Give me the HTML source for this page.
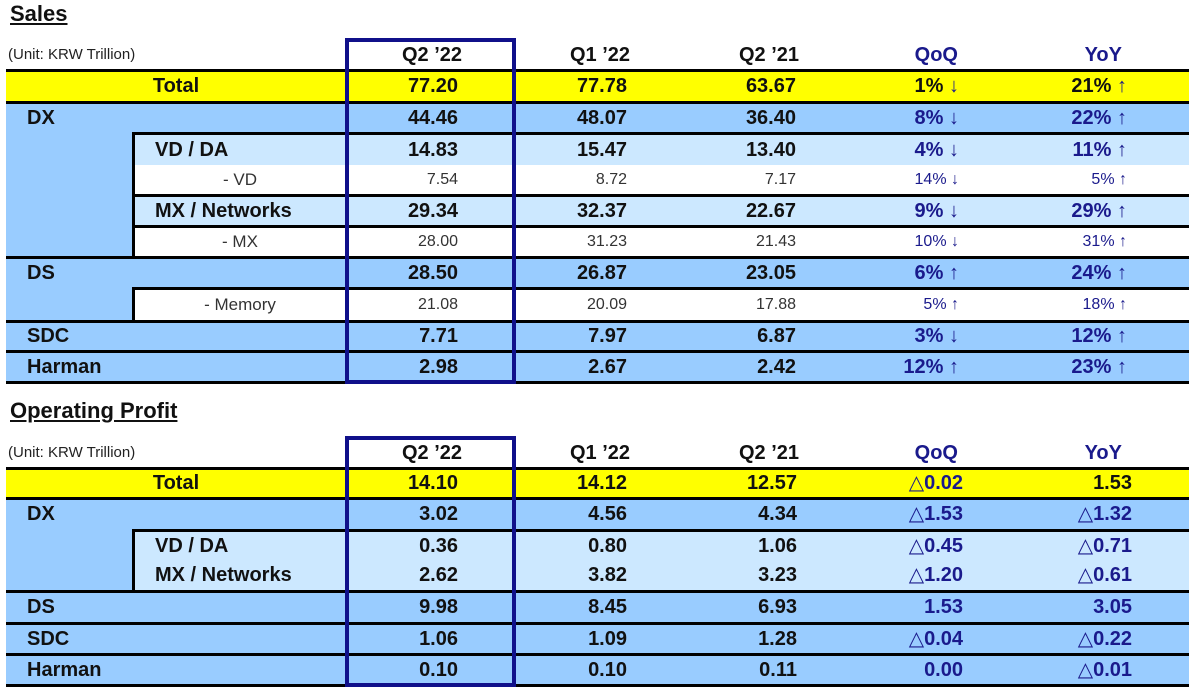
<!DOCTYPE html>
<html><head><meta charset="utf-8">
<style>
html,body{margin:0;padding:0;background:#fff;}
body{width:1200px;height:690px;position:relative;overflow:hidden;font-family:"Liberation Sans","DejaVu Sans",sans-serif;}
.f{position:absolute;}
.y{background:#ffff00;}
.bl{background:#99ccff;}
.lt{background:#cce8ff;}
.k{position:absolute;background:#000;}
.t{position:absolute;white-space:nowrap;}
.b{font-weight:bold;font-size:20px;color:#111;}
.r{font-size:16px;color:#333;}
.lab{font-size:17px;color:#333;}
.n{color:#1a1a8c;}
.R{width:200px;text-align:right;}
.C{width:200px;text-align:center;}
.a{color:#1a1a8c;}
.box{position:absolute;border:4px solid #10108a;box-sizing:border-box;}
.title{position:absolute;font-weight:bold;font-size:22px;line-height:22px;text-decoration:underline;color:#111;white-space:nowrap;}
.unit{position:absolute;font-size:15px;line-height:15px;color:#222;white-space:nowrap;}
</style></head><body>

<!-- ===== SALES ===== -->
<div class="title" style="left:10px;top:3px">Sales</div>
<div class="unit" style="left:8px;top:47px">(Unit: KRW Trillion)</div>

<!-- fills -->
<div class="f y" style="left:6px;top:72px;width:1183px;height:29px"></div>
<div class="f bl" style="left:6px;top:104px;width:1183px;height:28px"></div>
<div class="f bl" style="left:6px;top:132px;width:127px;height:124px"></div>
<div class="f lt" style="left:135px;top:135px;width:1054px;height:30px"></div>
<div class="f lt" style="left:135px;top:197px;width:1054px;height:28px"></div>
<div class="f bl" style="left:6px;top:259px;width:1183px;height:29px"></div>
<div class="f bl" style="left:6px;top:288px;width:127px;height:32px"></div>
<div class="f bl" style="left:6px;top:323px;width:1183px;height:27px"></div>
<div class="f bl" style="left:6px;top:353px;width:1183px;height:28px"></div>

<!-- lines -->
<div class="k" style="left:6px;top:69px;width:1183px;height:3px"></div>
<div class="k" style="left:6px;top:101px;width:1183px;height:3px"></div>
<div class="k" style="left:132px;top:132px;width:1057px;height:3px"></div>
<div class="k" style="left:132px;top:132px;width:3px;height:127px"></div>
<div class="k" style="left:132px;top:194px;width:1057px;height:3px"></div>
<div class="k" style="left:132px;top:225px;width:1057px;height:3px"></div>
<div class="k" style="left:6px;top:256px;width:1183px;height:3px"></div>
<div class="k" style="left:132px;top:287px;width:1057px;height:3px"></div>
<div class="k" style="left:132px;top:287px;width:3px;height:36px"></div>
<div class="k" style="left:6px;top:320px;width:1183px;height:3px"></div>
<div class="k" style="left:6px;top:350px;width:1183px;height:3px"></div>
<div class="k" style="left:6px;top:381px;width:1183px;height:3px"></div>

<!-- header -->
<div class="t b R" style="left:262px;top:42px;height:27px;line-height:27px">Q2 ’22</div>
<div class="t b R" style="left:430px;top:42px;height:27px;line-height:27px">Q1 ’22</div>
<div class="t b R" style="left:599px;top:42px;height:27px;line-height:27px">Q2 ’21</div>
<div class="t b R n" style="left:758px;top:42px;height:27px;line-height:27px">QoQ</div>
<div class="t b R n" style="left:922px;top:42px;height:27px;line-height:27px">YoY</div>

<!-- Total -->
<div class="t b C" style="left:76px;top:72px;height:29px;line-height:29px">Total</div>
<div class="t b R" style="left:258px;top:72px;height:29px;line-height:29px">77.20</div>
<div class="t b R" style="left:427px;top:72px;height:29px;line-height:29px">77.78</div>
<div class="t b R" style="left:596px;top:72px;height:29px;line-height:29px">63.67</div>
<div class="t b R" style="left:759px;top:72px;height:29px;line-height:29px">1% <span class="a">↓</span></div>
<div class="t b R" style="left:927px;top:72px;height:29px;line-height:29px">21% <span class="a">↑</span></div>

<!-- DX -->
<div class="t b" style="left:27px;top:104px;height:28px;line-height:28px">DX</div>
<div class="t b R" style="left:258px;top:104px;height:28px;line-height:28px">44.46</div>
<div class="t b R" style="left:427px;top:104px;height:28px;line-height:28px">48.07</div>
<div class="t b R" style="left:596px;top:104px;height:28px;line-height:28px">36.40</div>
<div class="t b R n" style="left:759px;top:104px;height:28px;line-height:28px">8% ↓</div>
<div class="t b R n" style="left:927px;top:104px;height:28px;line-height:28px">22% ↑</div>

<!-- VD / DA -->
<div class="t b" style="left:155px;top:135px;height:30px;line-height:30px">VD / DA</div>
<div class="t b R" style="left:258px;top:135px;height:30px;line-height:30px">14.83</div>
<div class="t b R" style="left:427px;top:135px;height:30px;line-height:30px">15.47</div>
<div class="t b R" style="left:596px;top:135px;height:30px;line-height:30px">13.40</div>
<div class="t b R n" style="left:759px;top:135px;height:30px;line-height:30px">4% ↓</div>
<div class="t b R n" style="left:927px;top:135px;height:30px;line-height:30px">11% ↑</div>

<!-- - VD -->
<div class="t lab C" style="left:140px;top:165px;height:29px;line-height:29px">- VD</div>
<div class="t r R" style="left:258px;top:165px;height:29px;line-height:29px">7.54</div>
<div class="t r R" style="left:427px;top:165px;height:29px;line-height:29px">8.72</div>
<div class="t r R" style="left:596px;top:165px;height:29px;line-height:29px">7.17</div>
<div class="t r R n" style="left:759px;top:165px;height:29px;line-height:29px">14% ↓</div>
<div class="t r R n" style="left:927px;top:165px;height:29px;line-height:29px">5% ↑</div>

<!-- MX / Networks -->
<div class="t b" style="left:155px;top:197px;height:28px;line-height:28px">MX / Networks</div>
<div class="t b R" style="left:258px;top:197px;height:28px;line-height:28px">29.34</div>
<div class="t b R" style="left:427px;top:197px;height:28px;line-height:28px">32.37</div>
<div class="t b R" style="left:596px;top:197px;height:28px;line-height:28px">22.67</div>
<div class="t b R n" style="left:759px;top:197px;height:28px;line-height:28px">9% ↓</div>
<div class="t b R n" style="left:927px;top:197px;height:28px;line-height:28px">29% ↑</div>

<!-- - MX -->
<div class="t lab C" style="left:140px;top:228px;height:28px;line-height:28px">- MX</div>
<div class="t r R" style="left:258px;top:228px;height:28px;line-height:28px">28.00</div>
<div class="t r R" style="left:427px;top:228px;height:28px;line-height:28px">31.23</div>
<div class="t r R" style="left:596px;top:228px;height:28px;line-height:28px">21.43</div>
<div class="t r R n" style="left:759px;top:228px;height:28px;line-height:28px">10% ↓</div>
<div class="t r R n" style="left:927px;top:228px;height:28px;line-height:28px">31% ↑</div>

<!-- DS -->
<div class="t b" style="left:27px;top:259px;height:28px;line-height:28px">DS</div>
<div class="t b R" style="left:258px;top:259px;height:28px;line-height:28px">28.50</div>
<div class="t b R" style="left:427px;top:259px;height:28px;line-height:28px">26.87</div>
<div class="t b R" style="left:596px;top:259px;height:28px;line-height:28px">23.05</div>
<div class="t b R n" style="left:759px;top:259px;height:28px;line-height:28px">6% ↑</div>
<div class="t b R n" style="left:927px;top:259px;height:28px;line-height:28px">24% ↑</div>

<!-- - Memory -->
<div class="t lab C" style="left:140px;top:290px;height:30px;line-height:30px">- Memory</div>
<div class="t r R" style="left:258px;top:290px;height:30px;line-height:30px">21.08</div>
<div class="t r R" style="left:427px;top:290px;height:30px;line-height:30px">20.09</div>
<div class="t r R" style="left:596px;top:290px;height:30px;line-height:30px">17.88</div>
<div class="t r R n" style="left:759px;top:290px;height:30px;line-height:30px">5% ↑</div>
<div class="t r R n" style="left:927px;top:290px;height:30px;line-height:30px">18% ↑</div>

<!-- SDC -->
<div class="t b" style="left:27px;top:323px;height:27px;line-height:27px">SDC</div>
<div class="t b R" style="left:258px;top:323px;height:27px;line-height:27px">7.71</div>
<div class="t b R" style="left:427px;top:323px;height:27px;line-height:27px">7.97</div>
<div class="t b R" style="left:596px;top:323px;height:27px;line-height:27px">6.87</div>
<div class="t b R n" style="left:759px;top:323px;height:27px;line-height:27px">3% ↓</div>
<div class="t b R n" style="left:927px;top:323px;height:27px;line-height:27px">12% ↑</div>

<!-- Harman -->
<div class="t b" style="left:27px;top:353px;height:28px;line-height:28px">Harman</div>
<div class="t b R" style="left:258px;top:353px;height:28px;line-height:28px">2.98</div>
<div class="t b R" style="left:427px;top:353px;height:28px;line-height:28px">2.67</div>
<div class="t b R" style="left:596px;top:353px;height:28px;line-height:28px">2.42</div>
<div class="t b R n" style="left:759px;top:353px;height:28px;line-height:28px">12% ↑</div>
<div class="t b R n" style="left:927px;top:353px;height:28px;line-height:28px">23% ↑</div>

<div class="box" style="left:345px;top:38px;width:171px;height:346px"></div>

<!-- ===== OPERATING PROFIT ===== -->
<div class="title" style="left:10px;top:400px">Operating Profit</div>
<div class="unit" style="left:8px;top:445px">(Unit: KRW Trillion)</div>

<div class="f y" style="left:6px;top:470px;width:1183px;height:27px"></div>
<div class="f bl" style="left:6px;top:500px;width:1183px;height:29px"></div>
<div class="f bl" style="left:6px;top:529px;width:127px;height:61px"></div>
<div class="f lt" style="left:135px;top:532px;width:1054px;height:58px"></div>
<div class="f bl" style="left:6px;top:593px;width:1183px;height:29px"></div>
<div class="f bl" style="left:6px;top:625px;width:1183px;height:28px"></div>
<div class="f bl" style="left:6px;top:656px;width:1183px;height:28px"></div>

<div class="k" style="left:6px;top:467px;width:1183px;height:3px"></div>
<div class="k" style="left:6px;top:497px;width:1183px;height:3px"></div>
<div class="k" style="left:132px;top:529px;width:1057px;height:3px"></div>
<div class="k" style="left:132px;top:529px;width:3px;height:62px"></div>
<div class="k" style="left:6px;top:590px;width:1183px;height:3px"></div>
<div class="k" style="left:6px;top:622px;width:1183px;height:3px"></div>
<div class="k" style="left:6px;top:653px;width:1183px;height:3px"></div>
<div class="k" style="left:6px;top:684px;width:1183px;height:3px"></div>

<!-- header -->
<div class="t b R" style="left:262px;top:440px;height:27px;line-height:27px">Q2 ’22</div>
<div class="t b R" style="left:430px;top:440px;height:27px;line-height:27px">Q1 ’22</div>
<div class="t b R" style="left:599px;top:440px;height:27px;line-height:27px">Q2 ’21</div>
<div class="t b R n" style="left:758px;top:440px;height:27px;line-height:27px">QoQ</div>
<div class="t b R n" style="left:922px;top:440px;height:27px;line-height:27px">YoY</div>

<!-- Total -->
<div class="t b C" style="left:76px;top:470px;height:27px;line-height:27px">Total</div>
<div class="t b R" style="left:258px;top:470px;height:27px;line-height:27px">14.10</div>
<div class="t b R" style="left:427px;top:470px;height:27px;line-height:27px">14.12</div>
<div class="t b R" style="left:597px;top:470px;height:27px;line-height:27px">12.57</div>
<div class="t b R n" style="left:763px;top:470px;height:27px;line-height:27px">△0.02</div>
<div class="t b R" style="left:932px;top:470px;height:27px;line-height:27px">1.53</div>

<!-- DX -->
<div class="t b" style="left:27px;top:500px;height:29px;line-height:29px">DX</div>
<div class="t b R" style="left:258px;top:500px;height:29px;line-height:29px">3.02</div>
<div class="t b R" style="left:427px;top:500px;height:29px;line-height:29px">4.56</div>
<div class="t b R" style="left:597px;top:500px;height:29px;line-height:29px">4.34</div>
<div class="t b R n" style="left:763px;top:500px;height:29px;line-height:29px">△1.53</div>
<div class="t b R n" style="left:932px;top:500px;height:29px;line-height:29px">△1.32</div>

<!-- VD / DA -->
<div class="t b" style="left:155px;top:532px;height:29px;line-height:29px">VD / DA</div>
<div class="t b R" style="left:258px;top:532px;height:29px;line-height:29px">0.36</div>
<div class="t b R" style="left:427px;top:532px;height:29px;line-height:29px">0.80</div>
<div class="t b R" style="left:597px;top:532px;height:29px;line-height:29px">1.06</div>
<div class="t b R n" style="left:763px;top:532px;height:29px;line-height:29px">△0.45</div>
<div class="t b R n" style="left:932px;top:532px;height:29px;line-height:29px">△0.71</div>

<!-- MX / Networks -->
<div class="t b" style="left:155px;top:561px;height:29px;line-height:29px">MX / Networks</div>
<div class="t b R" style="left:258px;top:561px;height:29px;line-height:29px">2.62</div>
<div class="t b R" style="left:427px;top:561px;height:29px;line-height:29px">3.82</div>
<div class="t b R" style="left:597px;top:561px;height:29px;line-height:29px">3.23</div>
<div class="t b R n" style="left:763px;top:561px;height:29px;line-height:29px">△1.20</div>
<div class="t b R n" style="left:932px;top:561px;height:29px;line-height:29px">△0.61</div>

<!-- DS -->
<div class="t b" style="left:27px;top:593px;height:29px;line-height:29px">DS</div>
<div class="t b R" style="left:258px;top:593px;height:29px;line-height:29px">9.98</div>
<div class="t b R" style="left:427px;top:593px;height:29px;line-height:29px">8.45</div>
<div class="t b R" style="left:597px;top:593px;height:29px;line-height:29px">6.93</div>
<div class="t b R n" style="left:763px;top:593px;height:29px;line-height:29px">1.53</div>
<div class="t b R n" style="left:932px;top:593px;height:29px;line-height:29px">3.05</div>

<!-- SDC -->
<div class="t b" style="left:27px;top:625px;height:28px;line-height:28px">SDC</div>
<div class="t b R" style="left:258px;top:625px;height:28px;line-height:28px">1.06</div>
<div class="t b R" style="left:427px;top:625px;height:28px;line-height:28px">1.09</div>
<div class="t b R" style="left:597px;top:625px;height:28px;line-height:28px">1.28</div>
<div class="t b R n" style="left:763px;top:625px;height:28px;line-height:28px">△0.04</div>
<div class="t b R n" style="left:932px;top:625px;height:28px;line-height:28px">△0.22</div>

<!-- Harman -->
<div class="t b" style="left:27px;top:656px;height:28px;line-height:28px">Harman</div>
<div class="t b R" style="left:258px;top:656px;height:28px;line-height:28px">0.10</div>
<div class="t b R" style="left:427px;top:656px;height:28px;line-height:28px">0.10</div>
<div class="t b R" style="left:597px;top:656px;height:28px;line-height:28px">0.11</div>
<div class="t b R n" style="left:763px;top:656px;height:28px;line-height:28px">0.00</div>
<div class="t b R n" style="left:932px;top:656px;height:28px;line-height:28px">△0.01</div>

<div class="box" style="left:345px;top:436px;width:171px;height:251px"></div>

</body></html>
